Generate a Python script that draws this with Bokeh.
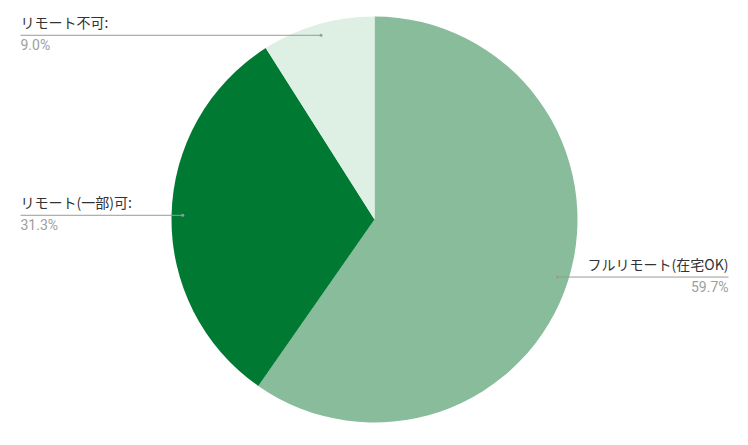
import math
from bokeh.plotting import figure
from bokeh.models import ColumnDataSource, Range1d
from bokeh.core.properties import value
from bokeh.embed import file_html
from bokeh.resources import INLINE

categories = ["フルリモート(在宅OK)", "リモート(一部)可", "リモート不可"]
shares = [59.7, 31.3, 9.0]
colors = ["#88bc9b", "#007a33", "#deefe3"]

W, H = 732, 429
p = figure(width=W, height=H, x_range=Range1d(0, W), y_range=Range1d(0, H),
           output_backend="svg", toolbar_location=None, min_border=0)
p.axis.visible = False
p.grid.visible = False
p.outline_line_color = None
p.background_fill_color = "white"

cx, cy, r = 374, 210, 203
total = sum(shares)
starts, ends, mids = [], [], []
cum = 0.0
for s in shares:
    a0 = math.pi / 2 - cum / total * 2 * math.pi
    cum += s
    a1 = math.pi / 2 - cum / total * 2 * math.pi
    starts.append(a0)
    ends.append(a1)
    mids.append((a0 + a1) / 2)

src = ColumnDataSource(dict(start=starts, end=ends, color=colors))
p.wedge(x=cx, y=cy, radius=r, start_angle="start", end_angle="end",
        direction="clock", fill_color="color", line_color=None, source=src)

dx, dy, ex, names, pcts, aligns = [], [], [], [], [], []
for cat, s, m in zip(categories, shares, mids):
    x0 = cx + 0.945 * r * math.cos(m)
    y0 = cy + 0.945 * r * math.sin(m)
    dx.append(x0)
    dy.append(y0)
    if math.cos(m) < 0:
        ex.append(20)
        aligns.append("left")
        names.append(cat + ":")
    else:
        ex.append(728)
        aligns.append("right")
        names.append(cat)
    pcts.append(f"{s:.1f}%")

lsrc = ColumnDataSource(dict(x0=dx, y0=dy, x1=ex, name=names, pct=pcts,
                             align=aligns,
                             ny=[y + 3 for y in dy], py=[y - 1.5 for y in dy]))
p.segment(x0="x0", y0="y0", x1="x1", y1="y0", line_color="#9a9a9a",
          line_width=1, source=lsrc)
p.scatter(x="x0", y="y0", size=3, fill_color="#9a9a9a", line_color=None, source=lsrc)
p.text(x="x1", y="ny", text="name", text_align="align", text_baseline="bottom",
       text_font=value("Noto Sans CJK JP"), text_font_size="14px",
       text_color="#333333", source=lsrc)
p.text(x="x1", y="py", text="pct", text_align="align", text_baseline="top",
       text_font=value("Roboto"), text_font_size="14px",
       text_color="#9e9e9e", source=lsrc)

open("out.html", "w").write(file_html(p, INLINE))
